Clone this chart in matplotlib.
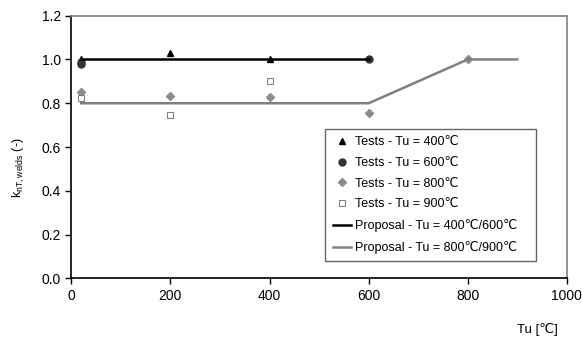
import matplotlib
matplotlib.use('Agg')
import matplotlib.pyplot as plt

plt.rcParams['font.family'] = ['Liberation Sans', 'DejaVu Sans']

# test results
t400_x = [20, 200, 400]
t400_y = [1.00, 1.03, 1.00]
t600_x = [20, 20, 600]
t600_y = [0.98, 0.99, 1.00]
t800_x = [20, 200, 400, 600, 800]
t800_y = [0.85, 0.835, 0.83, 0.755, 1.00]
t900_x = [20, 200, 400]
t900_y = [0.825, 0.745, 0.90]

# proposals
p46_x = [20, 600]
p46_y = [1.0, 1.0]
p89_x = [20, 600, 800, 900]
p89_y = [0.8, 0.8, 1.0, 1.0]

fig = plt.figure(figsize=(5.82, 3.4), dpi=100)
ax = fig.add_axes([0.1225, 0.181, 0.8515, 0.773])

ax.plot(t400_x, t400_y, linestyle='none', marker='^', color='black', markersize=5,
        label='Tests - Tu = 400℃')
ax.plot(t600_x, t600_y, linestyle='none', marker='o', color='#333333', markersize=5,
        label='Tests - Tu = 600℃')
ax.plot(t800_x, t800_y, linestyle='none', marker='D', color='#8c8c8c', markersize=4,
        label='Tests - Tu = 800℃')
ax.plot(t900_x, t900_y, linestyle='none', marker='s', markerfacecolor='white',
        markeredgecolor='#808080', markersize=5, markeredgewidth=0.8,
        label='Tests - Tu = 900℃')
ax.plot(p46_x, p46_y, color='black', linewidth=1.8, label='Proposal - Tu = 400℃/600℃')
ax.plot(p89_x, p89_y, color='#808080', linewidth=1.8, label='Proposal - Tu = 800℃/900℃')

ax.set_xlim(0, 1000)
ax.set_ylim(0, 1.2)
ax.set_xticks(range(0, 1001, 200))
ax.set_yticks([0.0, 0.2, 0.4, 0.6, 0.8, 1.0, 1.2])
ax.set_yticklabels([f'{v:.1f}' for v in ax.get_yticks()])
ax.tick_params(direction='out', length=4, width=1, labelsize=10, top=False, right=False)

for s in ['left', 'bottom']:
    ax.spines[s].set_color('black')
    ax.spines[s].set_linewidth(1.2)
for s in ['top', 'right']:
    ax.spines[s].set_color('#808080')
    ax.spines[s].set_linewidth(1.2)

ax.set_ylabel('k$_{\\mathregular{nT,welds}}$ (-)', fontsize=9, labelpad=8)
ax.yaxis.set_label_coords(-0.09, 0.42)
fig.text(0.923, 0.022, 'Tu [℃]', fontsize=9.5, ha='center')

leg = ax.legend(loc='upper left', bbox_to_anchor=(0.512, 0.0, 0.426, 0.57),
                mode='expand', fontsize=9,
                frameon=True, fancybox=False, handlelength=1.5, handletextpad=0.3,
                borderpad=0.6, labelspacing=0.7, borderaxespad=0)
leg.get_frame().set_edgecolor('#404040')
leg.get_frame().set_linewidth(1.0)

fig.savefig('out.png', dpi=100)
